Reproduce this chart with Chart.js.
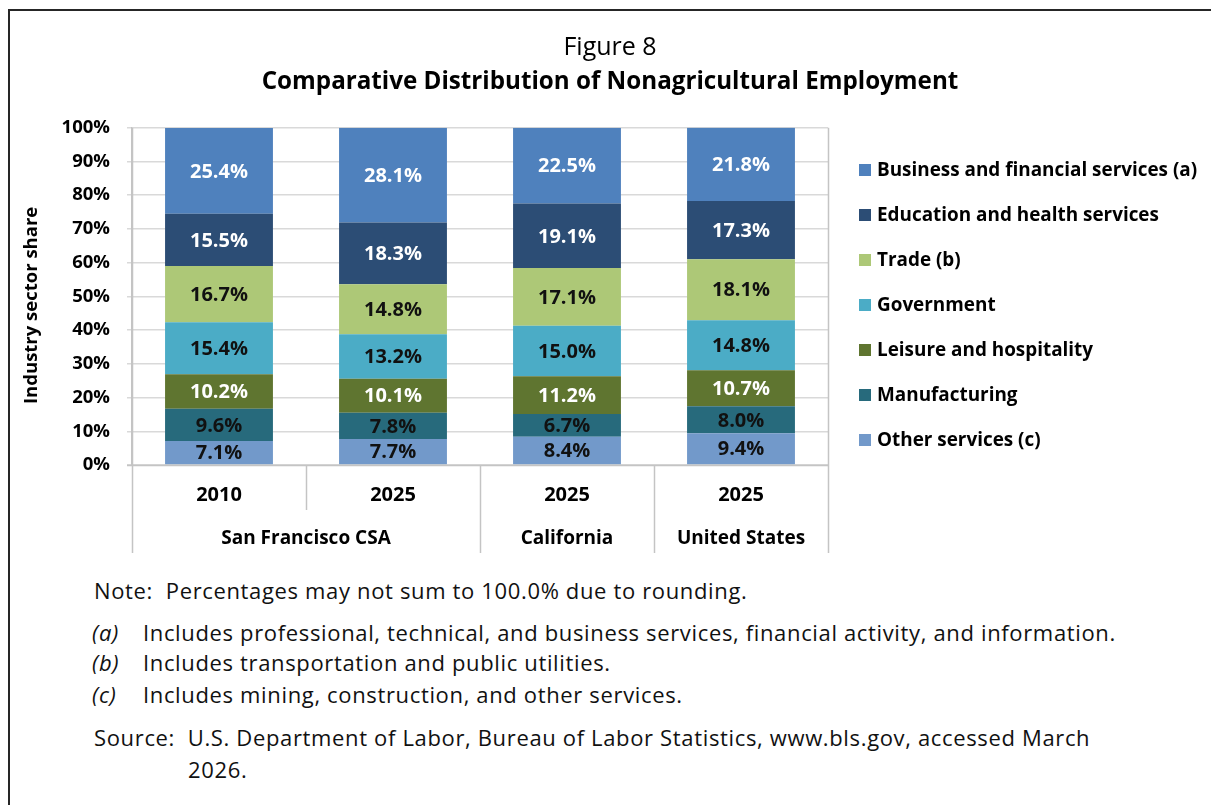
<!DOCTYPE html>
<html><head><meta charset="utf-8">
<script src="https://cdn.jsdelivr.net/npm/chart.js@4.4.1/dist/chart.umd.min.js"></script>
<style>
html,body{margin:0;padding:0;background:#fff;}
body{width:1211px;height:805px;position:relative;overflow:hidden;font-family:"Open Sans", Lato, sans-serif;color:#111;}
#frame{position:absolute;left:8px;top:9px;width:1220px;height:820px;border-left:2px solid #262626;border-top:2px solid #262626;}
#wrap{position:absolute;left:10px;top:12px;width:1200px;height:548px;}
.note{position:absolute;font-size:22px;letter-spacing:0.65px;white-space:pre;line-height:26px;color:#111;}
</style></head>
<body>
<div id="frame"></div>
<div id="wrap"><canvas id="c"></canvas></div>
<div class="note" style="left:94px;top:577px">Note:  Percentages may not sum to 100.0% due to rounding.</div>
<div class="note" style="left:92px;top:619px"><i>(a)</i></div>
<div class="note" style="left:143px;top:619px">Includes professional, technical, and business services, financial activity, and information.</div>
<div class="note" style="left:92px;top:649px"><i>(b)</i></div>
<div class="note" style="left:143px;top:649px">Includes transportation and public utilities.</div>
<div class="note" style="left:92px;top:681px"><i>(c)</i></div>
<div class="note" style="left:143px;top:681px">Includes mining, construction, and other services.</div>
<div class="note" style="left:94px;top:724px">Source:  U.S. Department of Labor, Bureau of Labor Statistics, www.bls.gov, accessed March</div>
<div class="note" style="left:188px;top:756px">2026.</div>
<script>
// ---- data ----
const categories = ['2010', '2025', '2025', '2025'];
const regions = ['San Francisco CSA', 'California', 'United States'];
const regionSpans = [2, 1, 1];
const seriesNames = ['Other services (c)', 'Manufacturing', 'Leisure and hospitality', 'Government', 'Trade (b)', 'Education and health services', 'Business and financial services (a)'];
const otherServices = [7.1, 7.7, 8.4, 9.4];
const manufacturing = [9.6, 7.8, 6.7, 8.0];
const leisure = [10.2, 10.1, 11.2, 10.7];
const government = [15.4, 13.2, 15.0, 14.8];
const trade = [16.7, 14.8, 17.1, 18.1];
const education = [15.5, 18.3, 19.1, 17.3];
const business = [25.4, 28.1, 22.5, 21.8];
const yTickValues = [0, 10, 20, 30, 40, 50, 60, 70, 80, 90, 100];
const yAxisTitle = 'Industry sector share';

// ---- styles ----
const seriesValues = [otherServices, manufacturing, leisure, government, trade, education, business];
const seriesColors = ['#7299CA', '#276A7C', '#5F7530', '#4BACC6', '#ADC877', '#2C4D75', '#4F81BD'];
const labelColors = ['#111', '#111', '#fff', '#111', '#111', '#fff', '#fff'];
const FONT = '"Open Sans", Lato, sans-serif';
Chart.defaults.font.family = FONT;
Chart.defaults.color = '#000';

const overlay = {
  id: 'overlay',
  afterDatasetsDraw(chart) {
    const ctx = chart.ctx;
    ctx.save();
    ctx.font = 'bold 20px ' + FONT;
    ctx.textAlign = 'center';
    ctx.textBaseline = 'middle';
    chart.data.datasets.forEach((ds, di) => {
      const meta = chart.getDatasetMeta(di);
      meta.data.forEach((bar, i) => {
        ctx.fillStyle = labelColors[di];
        ctx.fillText(ds.data[i].toFixed(1) + '%', bar.x, (bar.y + bar.base) / 2 + 1);
      });
    });
    ctx.restore();
  },
  afterDraw(chart) {
    const ctx = chart.ctx;
    const xs = chart.scales.x;
    const a = chart.chartArea;
    const half = (xs.getPixelForValue(1) - xs.getPixelForValue(0)) / 2;
    ctx.save();
    ctx.strokeStyle = '#c4c4c4';
    ctx.lineWidth = 1.5;
    const line = (x, y0, y1) => { ctx.beginPath(); ctx.moveTo(Math.round(x) + 0.5, y0); ctx.lineTo(Math.round(x) + 0.5, y1); ctx.stroke(); };
    ctx.beginPath(); ctx.moveTo(a.left - 5, a.bottom + 0.5); ctx.lineTo(a.right, a.bottom + 0.5); ctx.stroke();
    line(a.left, a.top, a.bottom + 88);
    line(a.right, a.top, a.bottom + 88);
    let idx = 0;
    regionSpans.forEach((span, r) => {
      for (let k = 1; k < span; k++) line(xs.getPixelForValue(idx + k) - half, a.bottom, a.bottom + 45);
      idx += span;
      if (r < regionSpans.length - 1) line(xs.getPixelForValue(idx) - half, a.bottom, a.bottom + 88);
    });
    ctx.fillStyle = '#000';
    ctx.font = 'bold 19px ' + FONT;
    ctx.textAlign = 'center';
    ctx.textBaseline = 'middle';
    idx = 0;
    regionSpans.forEach((span, r) => {
      const x = (xs.getPixelForValue(idx) + xs.getPixelForValue(idx + span - 1)) / 2;
      ctx.fillText(regions[r], x, a.bottom + 74);
      idx += span;
    });
    // y axis title
    ctx.save();
    ctx.font = 'bold 18.5px ' + FONT;
    ctx.translate(22, (a.top + a.bottom) / 2 + 9);
    ctx.rotate(-Math.PI / 2);
    ctx.fillText(yAxisTitle, 0, 0);
    ctx.restore();
    // legend
    ctx.font = 'bold 18.9px ' + FONT;
    ctx.textAlign = 'left';
    const n = chart.data.datasets.length;
    for (let j = 0; j < n; j++) {
      const di = n - 1 - j;
      const ds = chart.data.datasets[di];
      const y = 158 + j * 45;
      ctx.fillStyle = ds.backgroundColor;
      ctx.fillRect(849, y - 6, 12, 12);
      ctx.fillStyle = '#000';
      ctx.fillText(ds.label, 867, y + 1);
    }
    ctx.restore();
  }
};

new Chart(document.getElementById('c'), {
  type: 'bar',
  data: {
    labels: categories,
    datasets: seriesNames.map((name, i) => ({
      label: name,
      data: seriesValues[i],
      backgroundColor: seriesColors[i],
      borderWidth: 0,
      categoryPercentage: 1,
      barPercentage: 0.62
    }))
  },
  options: {
    responsive: true,
    maintainAspectRatio: false,
    animation: false,
    layout: { padding: 0 },
    plugins: {
      legend: { display: false },
      tooltip: { enabled: false },
      title: { display: true, text: 'Figure 8', color: '#000', font: { size: 25, weight: 'normal' }, padding: { top: 20.5, bottom: 0 } },
      subtitle: { display: true, text: 'Comparative Distribution of Nonagricultural Employment', color: '#000', font: { size: 24.2, weight: 'bold' }, padding: { top: 5.5, bottom: 30.7 } }
    },
    scales: {
      x: {
        stacked: true,
        grid: { display: false, drawTicks: false },
        border: { display: false },
        ticks: { font: { size: 20, weight: 'bold' }, color: '#000', padding: 18, maxRotation: 0 },
        afterFit(s) { s.height = 95; }
      },
      y: {
        stacked: true,
        min: 0, max: 100,
        afterBuildTicks(s) { s.ticks = yTickValues.map(v => ({ value: v })); },
        ticks: { font: { size: 18.5, weight: 'bold' }, color: '#000', padding: 17, callback: v => v + '%' },
        grid: { color: '#d9d9d9', lineWidth: 1.5, tickLength: 5, drawTicks: true },
        border: { display: true, color: '#c4c4c4', width: 1.5 },
        afterFit(s) { s.width = 122; }
      },
      legendSpace: {
        type: 'linear',
        position: 'right',
        display: true,
        grid: { display: false, drawTicks: false },
        border: { display: false },
        ticks: { display: false },
        afterFit(s) { s.width = 382; }
      }
    }
  },
  plugins: [overlay]
});
</script>
</body></html>
